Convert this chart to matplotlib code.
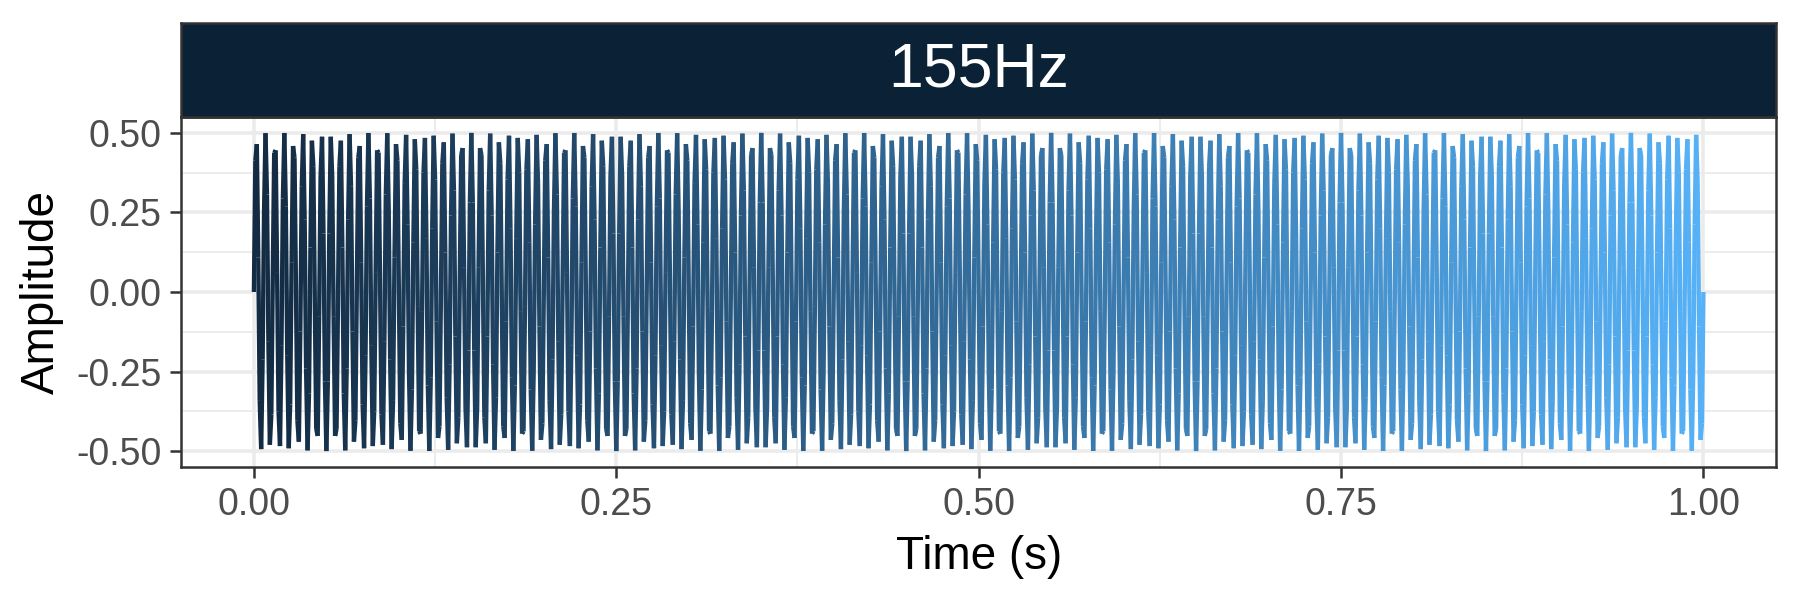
import numpy as np
import matplotlib.pyplot as plt
from matplotlib.collections import LineCollection
from matplotlib.colors import LinearSegmentedColormap

plt.rcParams['font.family'] = ['Liberation Sans', 'DejaVu Sans']

# signal description
freq_hz = 155
amplitude = 0.5
sample_rate = 1000
duration_s = 1.0
panel_label = '155Hz'

x_ticks = [0.00, 0.25, 0.50, 0.75, 1.00]
x_tick_labels = ['0.00', '0.25', '0.50', '0.75', '1.00']
y_ticks = [-0.50, -0.25, 0.00, 0.25, 0.50]
y_tick_labels = ['-0.50', '-0.25', '0.00', '0.25', '0.50']

t = np.linspace(0, duration_s, int(sample_rate * duration_s) + 1)
y = amplitude * np.sin(2 * np.pi * freq_hz * t)

fig = plt.figure(figsize=(6, 2), dpi=300)
ax = fig.add_axes([0.1008, 0.2217, 0.8858, 0.5833])
strip = fig.add_axes([0.1008, 0.805, 0.8858, 0.1567])

# gradient line coloured by time (ggplot default scale)
cmap = LinearSegmentedColormap.from_list('gg', ['#132B43', '#56B1F7'])
pts = np.column_stack([t, y]).reshape(-1, 1, 2)
segs = np.concatenate([pts[:-1], pts[1:]], axis=1)
lc = LineCollection(segs, cmap=cmap, linewidths=1.05, capstyle='butt', joinstyle='miter')
lc.set_array((t[:-1] + t[1:]) / 2)
lc.set_clim(0, 1)
ax.add_collection(lc)

ax.set_xlim(-0.05, 1.05)
ax.set_ylim(-0.55, 0.55)
ax.set_xticks(x_ticks)
ax.set_xticklabels(x_tick_labels)
ax.set_yticks(y_ticks)
ax.set_yticklabels(y_tick_labels)
ax.set_xticks([0.125, 0.375, 0.625, 0.875], minor=True)
ax.set_yticks([-0.375, -0.125, 0.125, 0.375], minor=True)
ax.grid(which='major', color='#EBEBEB', linewidth=0.85)
ax.grid(which='minor', color='#EBEBEB', linewidth=0.45)
ax.set_axisbelow(True)
ax.tick_params(which='major', length=2.75, width=0.6, color='#333333',
               labelsize=9, labelcolor='#4D4D4D', pad=2)
ax.tick_params(which='minor', length=0)
for s in ax.spines.values():
    s.set_color('#333333')
    s.set_linewidth(0.6)
ax.set_xlabel('Time (s)', fontsize=11, labelpad=3)
ax.set_ylabel('Amplitude', fontsize=11, labelpad=3)

strip.set_facecolor('#0B2136')
strip.set_xticks([])
strip.set_yticks([])
for s in strip.spines.values():
    s.set_color('#333333')
    s.set_linewidth(0.6)
strip.text(0.5, 0.5, panel_label, color='white', fontsize=15,
           ha='center', va='center', transform=strip.transAxes)

fig.savefig('out.png', dpi=300)
